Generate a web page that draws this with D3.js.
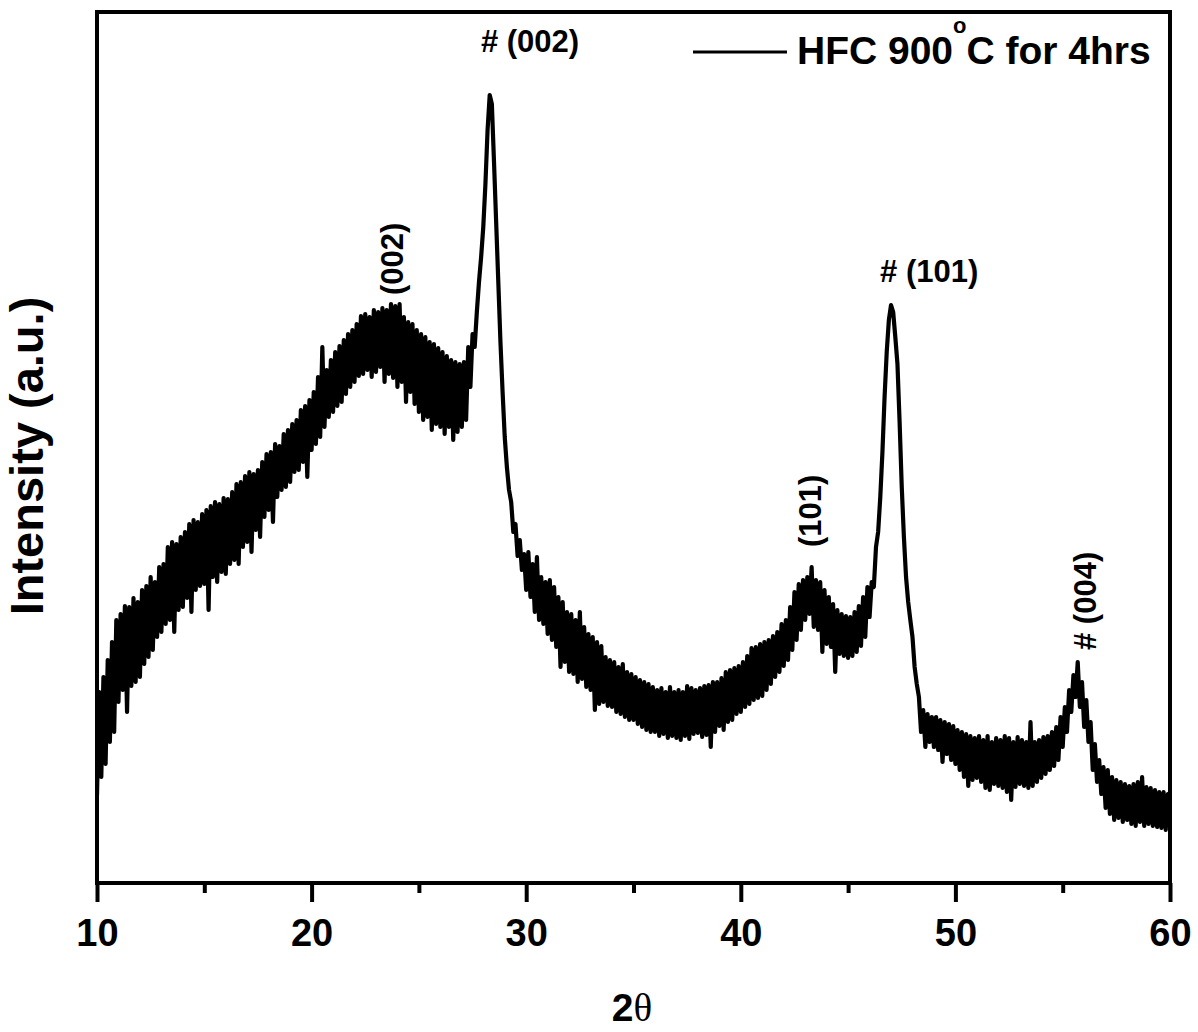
<!DOCTYPE html>
<html>
<head>
<meta charset="utf-8">
<script src="https://cdn.jsdelivr.net/npm/d3@7"></script>
<style>
body { margin: 0; background: #fff; }
svg { display: block; }
</style>
</head>
<body>
<script>
// XRD scan, 2theta from 10 to 60 deg, one reading every 0.1 deg
var scanStart = 10, scanStep = 0.1;
var intensity = [
  87,190,105,205,118,222,140,240,150,262,   // 10
  180,268,192,276,170,275,196,284,200,280,  // 11
  205,292,218,296,225,305,232,300,245,315,  // 12
  250,318,258,335,262,340,250,338,272,345,  // 13
  275,350,284,358,270,362,292,360,296,368,  // 14
  298,372,272,376,305,380,300,378,310,384,  // 15
  308,383,318,390,322,398,318,400,335,406,  // 16
  340,410,330,408,352,412,345,420,365,428,  // 17
  372,430,360,438,385,436,392,448,395,452,  // 18
  400,458,410,462,412,472,420,476,405,482,  // 19
  432,490,438,505,445,535,455,512,465,522,  // 20
  470,530,476,536,480,542,488,548,495,552,  // 21
  500,558,506,566,508,568,512,565,505,572,  // 22
  510,570,515,574,500,572,508,578,504,576,  // 23
  495,578,500,565,480,560,490,558,478,552,  // 24
  470,548,462,545,465,540,452,538,458,534,  // 25
  455,530,448,526,455,522,442,520,450,518,  // 26
  455,520,462,535,495,548,535,570,600,625,  // 27
  655,698,752,787,778,720,660,600,540,490,  // 28
  445,415,392,380,350,358,326,342,312,328,  // 29
  292,330,285,318,270,325,262,305,258,300,  // 30
  248,302,242,295,235,285,215,280,220,270,  // 31
  210,268,208,262,200,270,203,255,195,248,  // 32
  192,245,172,240,178,236,180,225,176,222,  // 33
  175,220,170,215,168,218,165,210,162,208,  // 34
  162,205,158,202,155,200,152,198,150,195,  // 35
  150,192,146,194,148,190,144,195,146,190,  // 36
  144,192,142,190,146,196,143,194,148,192,  // 37
  149,194,145,196,147,197,135,200,150,200,  // 38
  156,204,152,210,160,212,162,214,168,216,  // 39
  170,220,175,226,178,234,182,235,184,238,  // 40
  186,240,192,242,198,246,205,250,210,258,  // 41
  216,262,222,275,232,290,242,298,252,302,  // 42
  262,305,268,315,255,302,252,300,230,292,  // 43
  238,285,235,278,210,272,228,268,226,266,  // 44
  224,265,226,270,230,276,236,285,245,295,  // 45
  265,300,295,335,350,385,430,485,530,562,  // 46
  577,570,545,518,460,395,345,305,280,262,  // 47
  245,215,198,185,150,172,135,168,140,165,  // 48
  135,165,132,162,120,160,128,158,122,156,  // 49
  118,152,112,150,105,148,96,146,102,144,   // 50
  104,146,100,142,94,146,92,140,98,144,     // 51
  96,142,94,146,90,144,82,140,95,145,       // 52
  98,142,96,140,94,160,96,140,100,142,      // 53
  104,145,108,146,112,150,116,155,122,165,  // 54
  135,175,150,192,170,207,185,220,175,200,  // 55
  155,182,140,160,112,138,100,122,88,115,   // 56
  74,112,68,105,62,102,64,100,60,98,        // 57
  62,96,58,98,56,100,60,105,56,95,          // 58
  58,94,56,92,55,90,54,90,52,88,            // 59
  55                                        // 60
];

var xTicks = [10, 20, 30, 40, 50, 60];
var xMinorTicks = [15, 25, 35, 45, 55];

// peak labels: text, 2theta, intensity where the text starts, rotated or not
var peakText = ['# (002)', '(002)', '(101)', '# (101)', '# (004)'];
var peakTheta = [27.89, 24.26, 43.74, 46.49, 56.55];
var peakLevel = [830, 587, 335, 600, 232];
var peakVertical = [false, true, true, false, true];

var seriesName = 'HFC 900';
var seriesSup = 'o';
var seriesRest = 'C for 4hrs';

var W = 1198, H = 1032;
var svg = d3.select('body').append('svg').attr('width', W).attr('height', H);

var x = d3.scaleLinear().domain([10, 60]).range([97, 1170]);
var y = d3.scaleLinear().domain([0, 870]).range([882, 12]);

var fontBold = "'Liberation Sans', Arial, sans-serif";

svg.append('clipPath').attr('id', 'plotclip')
    .append('rect').attr('x', 97).attr('y', 12).attr('width', 1073).attr('height', 871);

var line = d3.line()
    .x((d, i) => x(scanStart + i * scanStep))
    .y(d => y(d));

svg.append('path')
    .attr('clip-path', 'url(#plotclip)')
    .attr('fill', 'none')
    .attr('stroke', '#000')
    .attr('stroke-width', 4.2)
    .attr('stroke-linejoin', 'round')
    .attr('d', line(intensity));

// frame
svg.append('rect')
    .attr('x', 97).attr('y', 12).attr('width', 1073).attr('height', 871)
    .attr('fill', 'none').attr('stroke', '#000').attr('stroke-width', 4);

// x axis, major + minor ticks
var xAxis = svg.append('g').attr('transform', 'translate(0,883)')
    .call(d3.axisBottom(x).tickValues(xTicks).tickSize(19).tickSizeOuter(0).tickPadding(17));
xAxis.select('.domain').remove();
xAxis.selectAll('line').attr('stroke-width', 4);
xAxis.selectAll('text')
    .attr('font-family', fontBold).attr('font-weight', 'bold')
    .attr('font-size', 38).attr('fill', '#000');

var xMinor = svg.append('g').attr('transform', 'translate(0,883)')
    .call(d3.axisBottom(x).tickValues(xMinorTicks).tickSize(10).tickFormat(''));
xMinor.select('.domain').remove();
xMinor.selectAll('line').attr('stroke-width', 4);

// axis titles
svg.append('text')
    .attr('transform', 'translate(43,456) rotate(-90)')
    .attr('text-anchor', 'middle')
    .attr('font-family', fontBold).attr('font-weight', 'bold').attr('font-size', 47)
    .text('Intensity (a.u.)');

var xt = svg.append('text')
    .attr('x', 632).attr('y', 1021)
    .attr('text-anchor', 'middle')
    .attr('font-size', 39);
xt.append('tspan').attr('font-family', fontBold).attr('font-weight', 'bold').text('2');
xt.append('tspan').attr('font-family', "'Liberation Serif', 'Times New Roman', serif").text('\u03b8');

// peak labels
peakText.forEach(function(t, i) {
    var px = x(peakTheta[i]), py = y(peakLevel[i]);
    svg.append('text')
        .attr('transform', 'translate(' + px + ',' + py + ')' + (peakVertical[i] ? ' rotate(-90)' : ''))
        .attr('font-family', fontBold).attr('font-weight', 'bold').attr('font-size', 31)
        .text(t);
});

// legend
svg.append('line')
    .attr('x1', 693).attr('x2', 787).attr('y1', 52).attr('y2', 52)
    .attr('stroke', '#000').attr('stroke-width', 3);
var lg = svg.append('text')
    .attr('x', 797).attr('y', 64)
    .attr('font-family', fontBold).attr('font-weight', 'bold').attr('font-size', 39);
lg.append('tspan').text(seriesName);
lg.append('tspan').attr('font-size', 22).attr('dy', -31).text(seriesSup);
lg.append('tspan').attr('dy', 31).text(seriesRest);
</script>
</body>
</html>
